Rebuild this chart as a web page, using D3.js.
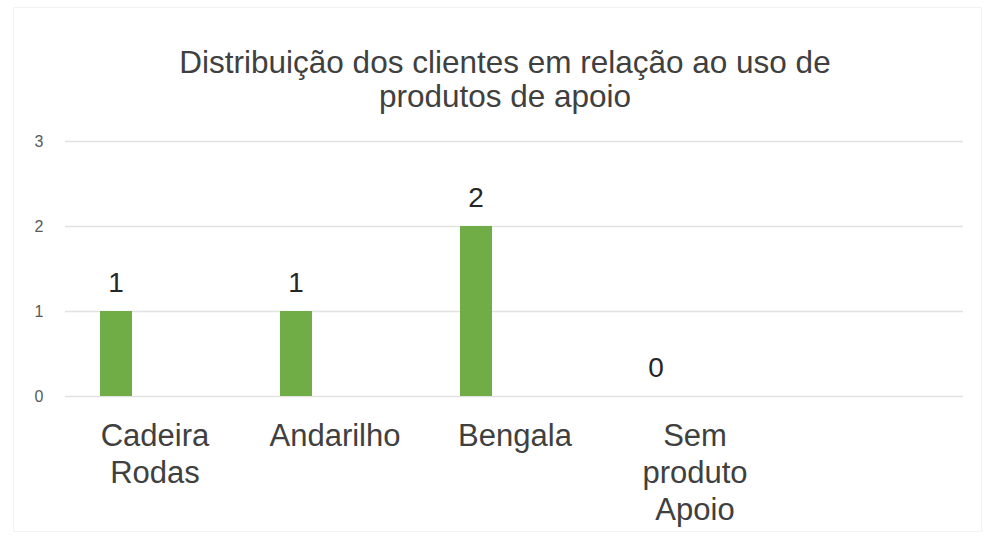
<!DOCTYPE html>
<html>
<head>
<meta charset="utf-8">
<script src="https://cdn.jsdelivr.net/npm/d3@7"></script>
<style>
html,body{margin:0;padding:0;background:#fff;}
svg{display:block;}
text{font-family:"Liberation Sans", Arial, sans-serif;}
</style>
</head>
<body>
<svg id="chart" width="985" height="537"></svg>
<script>
const titleLines = ["Distribuição dos clientes em relação ao uso de", "produtos de apoio"];
const categories = ["Cadeira Rodas", "Andarilho", "Bengala", "Sem produto Apoio"];
const categoryLines = [["Cadeira", "Rodas"], ["Andarilho"], ["Bengala"], ["Sem", "produto", "Apoio"]];
const values = [1, 1, 2, 0];
const yTicks = [0, 1, 2, 3];

const W = 985, H = 537;
const svg = d3.select("#chart");

// faint chart border
svg.append("rect").attr("x", 13.5).attr("y", 7.5).attr("width", 968).attr("height", 524)
  .attr("fill", "none").attr("stroke", "#f2f2f2").attr("stroke-width", 1);

const plot = {left: 65, right: 963, top: 141, bottom: 396};

const y = d3.scaleLinear().domain([0, 3]).range([plot.bottom, plot.top]);
// category slots (180px each), bars sit left of slot centre
const x = d3.scaleBand().domain(categories).range([65, 785]).padding(0);
const barOffset = 35, barWidth = 32;

// title
const title = svg.append("text").attr("text-anchor", "middle").attr("fill", "#404040")
  .style("font-size", "31.5px");
titleLines.forEach((t, i) => {
  title.append("tspan").attr("x", 505).attr("y", 73 + i * 34).text(t);
});

// gridlines
const grid = svg.append("g");
grid.selectAll("line").data(yTicks).join("line")
  .attr("x1", plot.left).attr("x2", plot.right)
  .attr("y1", d => y(d) + 0.5).attr("y2", d => y(d) + 0.5)
  .attr("stroke", "#e2e2e2").attr("stroke-width", 1.5);

// y axis (labels only)
const yAxis = d3.axisLeft(y).tickValues(yTicks).tickSize(0).tickPadding(0).tickFormat(d3.format("d"));
const gy = svg.append("g").attr("transform", "translate(43,0)").call(yAxis);
gy.select(".domain").remove();
gy.selectAll("text").attr("fill", "#595959").style("font-size", "16px")
  .attr("text-anchor", "middle").attr("dx", "-4");

// bars
svg.append("g").selectAll("rect").data(values).join("rect")
  .attr("x", (d, i) => x(categories[i]) + barOffset)
  .attr("width", barWidth)
  .attr("y", d => y(d))
  .attr("height", d => y(0) - y(d))
  .attr("fill", "#70ad47");

// data labels
svg.append("g").selectAll("text").data(values).join("text")
  .attr("x", (d, i) => x(categories[i]) + barOffset + barWidth / 2)
  .attr("y", d => y(d) - 19)
  .attr("text-anchor", "middle").attr("fill", "#262626")
  .style("font-size", "28px")
  .text(d => d);

// x category labels
const gx = svg.append("g");
categories.forEach((c, i) => {
  const t = gx.append("text").attr("text-anchor", "middle").attr("fill", "#404040")
    .style("font-size", "31px");
  categoryLines[i].forEach((ln, j) => {
    t.append("tspan").attr("x", x(c) + x.bandwidth() / 2).attr("y", 446 + j * 37).text(ln);
  });
});
</script>
</body>
</html>
